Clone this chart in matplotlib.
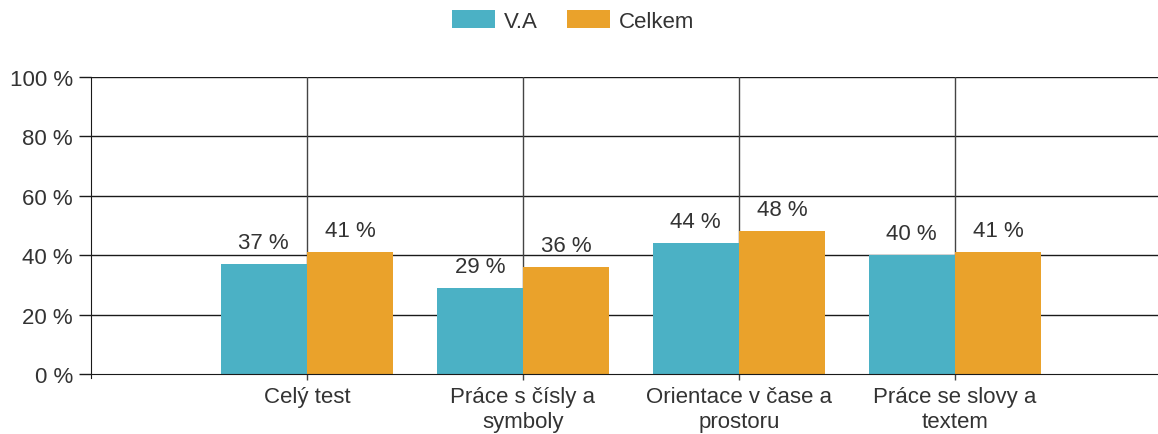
import matplotlib
matplotlib.use("Agg")
import matplotlib.pyplot as plt
import numpy as np

plt.rcParams['font.family'] = ['Liberation Sans', 'DejaVu Sans']

categories = ["Celý test", "Práce s čísly a\nsymboly", "Orientace v čase a\nprostoru", "Práce se slovy a\ntextem"]
series_names = ["V.A", "Celkem"]
va_values = [37, 29, 44, 40]
celkem_values = [41, 36, 48, 41]
y_ticks = [0, 20, 40, 60, 80, 100]
colors = ["#4BB1C5", "#EAA22B"]
text_color = "#333333"
fs = 16

fig = plt.figure(figsize=(11.58, 4.35), dpi=100)
ax = fig.add_axes([91/1158, 60/435, 1080/1158, 297/435])

x = np.arange(len(categories))
w = 0.4
b1 = ax.bar(x - w/2, va_values, w, color=colors[0], label=series_names[0], zorder=3)
b2 = ax.bar(x + w/2, celkem_values, w, color=colors[1], label=series_names[1], zorder=3)

for bars, vals in ((b1, va_values), (b2, celkem_values)):
    for r, v in zip(bars, vals):
        ax.annotate(f"{v} %", (r.get_x() + r.get_width()/2, v), xytext=(0, 8),
                    textcoords="offset points", ha="center", va="bottom",
                    fontsize=fs, color=text_color)

ax.set_xlim(-1.0, 4.0)
ax.set_ylim(0, 100)
ax.set_yticks(y_ticks)
ax.set_yticklabels([f"{t} %" for t in y_ticks])
ax.set_xticks(x)
ax.set_xticklabels(categories, linespacing=1.25)

for t in y_ticks[1:]:
    ax.axhline(t, color="#1a1a1a", lw=1.0, zorder=1)
for xi in x:
    ax.axvline(xi, color="#444444", lw=1.0, zorder=1)

for s in ["top", "right"]:
    ax.spines[s].set_visible(False)
ax.spines["left"].set_color("#1a1a1a")
ax.spines["bottom"].set_color("#1a1a1a")
ax.spines["left"].set_bounds(-1.5, 100)
ax.spines["bottom"].set_zorder(4)

ax.tick_params(axis="y", length=9, width=1, color="#1a1a1a", labelsize=fs, labelcolor=text_color, pad=4)
ax.tick_params(axis="x", length=4, width=1, color="#444444", labelsize=fs, labelcolor=text_color, pad=5)

handles, labels = ax.get_legend_handles_labels()
leg = fig.legend(handles, labels, loc="center", bbox_to_anchor=(573/1158, 1 - 22/435), ncol=2, frameon=False,
                 fontsize=fs, handlelength=1.95, handleheight=0.85, columnspacing=1.3, handletextpad=0.4)
for t in leg.get_texts():
    t.set_color(text_color)

fig.savefig("out.png", dpi=100)
